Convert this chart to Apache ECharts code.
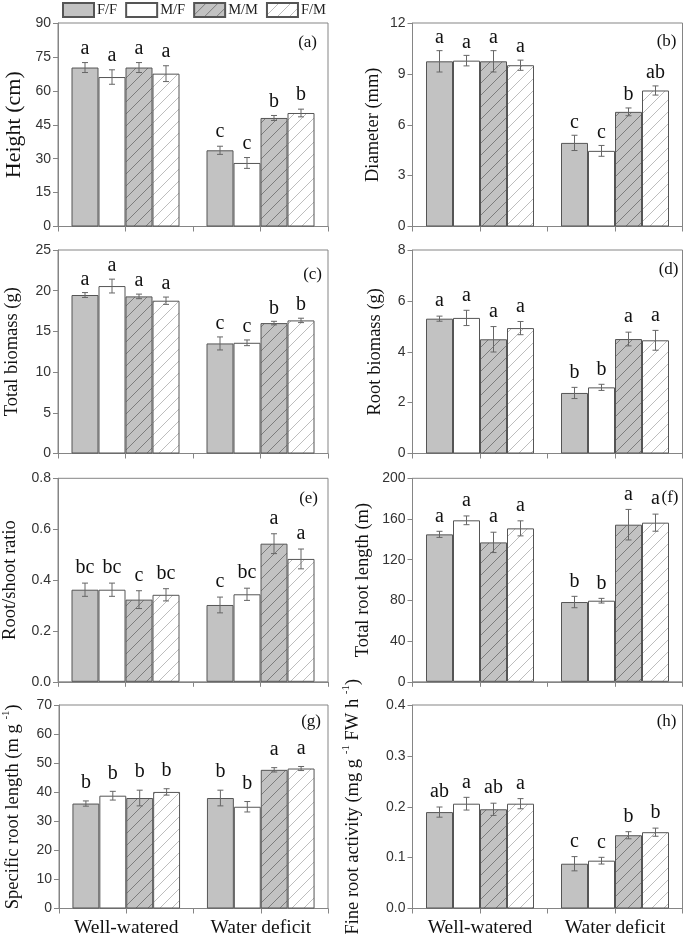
<!DOCTYPE html>
<html><head><meta charset="utf-8">
<script src="https://cdn.jsdelivr.net/npm/echarts@6/dist/echarts.min.js"></script>
<style>html,body{margin:0;padding:0;background:#fff}#c{width:685px;height:938px}</style>
</head><body><div id="c"></div><script>
// ---------- DATA ----------
const categories = ['Well-watered', 'Water deficit'];
const treatments = ['F/F', 'M/F', 'M/M', 'F/M'];
// rows: F/F, M/F, M/M, F/M ; columns: Well-watered, Water deficit
const heightMean = [[70.3, 33.7], [66.1, 28.1], [70.3, 48.0], [67.6, 50.2]];
const heightErr = [[2.2, 1.8], [3.2, 2.4], [2.2, 1.1], [3.5, 1.7]];
const heightLetters = [['a', 'c'], ['a', 'c'], ['a', 'b'], ['a', 'b']];

const diameterMean = [[9.74, 4.93], [9.78, 4.46], [9.74, 6.76], [9.51, 8.02]];
const diameterErr = [[0.63, 0.45], [0.31, 0.32], [0.63, 0.23], [0.30, 0.27]];
const diameterLetters = [['a', 'c'], ['a', 'c'], ['a', 'b'], ['a', 'ab']];

const totalBiomassMean = [[19.47, 13.52], [20.57, 13.6], [19.3, 16.02], [18.77, 16.35]];
const totalBiomassErr = [[0.3, 0.8], [0.85, 0.35], [0.28, 0.22], [0.45, 0.27]];
const totalBiomassLetters = [['a', 'c'], ['a', 'c'], ['a', 'b'], ['a', 'b']];

const rootBiomassMean = [[5.30, 2.38], [5.33, 2.60], [4.49, 4.50], [4.93, 4.45]];
const rootBiomassErr = [[0.1, 0.22], [0.3, 0.12], [0.5, 0.27], [0.26, 0.39]];
const rootBiomassLetters = [['a', 'b'], ['a', 'b'], ['a', 'a'], ['a', 'a']];

const rootShootMean = [[0.362, 0.302], [0.362, 0.344], [0.323, 0.543], [0.342, 0.483]];
const rootShootErr = [[0.026, 0.031], [0.026, 0.024], [0.035, 0.039], [0.024, 0.039]];
const rootShootLetters = [['bc', 'c'], ['bc', 'bc'], ['c', 'a'], ['bc', 'a']];

const rootLengthMean = [[144.9, 78.4], [158.7, 79.7], [137.0, 154.4], [150.8, 156.4]];
const rootLengthErr = [[3.0, 5.6], [4.3, 2.3], [10.0, 15.0], [7.4, 8.4]];
const rootLengthLetters = [['a', 'b'], ['a', 'b'], ['a', 'a'], ['a', 'a']];

const srlMean = [[36.1, 38.0], [38.8, 35.0], [38.0, 47.7], [40.1, 48.15]];
const srlErr = [[0.9, 2.7], [1.5, 1.8], [2.7, 0.75], [1.1, 0.7]];
const srlLetters = [['b', 'b'], ['b', 'b'], ['b', 'a'], ['b', 'a']];

const activityMean = [[0.1895, 0.088], [0.206, 0.094], [0.195, 0.144], [0.206, 0.150]];
const activityErr = [[0.010, 0.014], [0.0125, 0.0066], [0.012, 0.007], [0.010, 0.008]];
const activityLetters = [['ab', 'c'], ['a', 'c'], ['ab', 'b'], ['a', 'b']];

const yMaxes = [90, 12, 25, 8, 0.8, 200, 70, 0.4];
const yIntervals = [15, 3, 5, 2, 0.2, 40, 10, 0.1];
const yNames = [
  'Height (cm)', 'Diameter (mm)', 'Total biomass (g)', 'Root biomass (g)',
  'Root/shoot ratio', 'Total root length (m)',
  '{n|Specific root length (m g }{s|-1}{n|)}',
  '{n|Fine root activity (mg g }{s|-1}{n| FW h }{s|-1}{n|)}'
];
const panelTags = ['(a)', '(b)', '(c)', '(d)', '(e)', '(f)', '(g)', '(h)'];

// ---------- STYLE / LAYOUT ----------
const SERIF = '"Liberation Serif", "Times New Roman", serif';
const SANS = '"Liberation Sans", Arial, sans-serif';
const frameColor = '#858585';
const barBorder = '#555555';

function makeHatch(bg, line) {
  const s = 12;
  const cv = document.createElement('canvas');
  cv.width = s; cv.height = s;
  const ctx = cv.getContext('2d');
  ctx.fillStyle = bg; ctx.fillRect(0, 0, s, s);
  ctx.strokeStyle = line; ctx.lineWidth = 1;
  ctx.beginPath();
  ctx.moveTo(-1, s + 1); ctx.lineTo(s + 1, -1);
  ctx.moveTo(-1, 1); ctx.lineTo(1, -1);
  ctx.moveTo(s - 1, s + 1); ctx.lineTo(s + 1, s - 1);
  ctx.stroke();
  return { image: cv, repeat: 'repeat' };
}
const fills = ['#c2c2c2', '#ffffff', makeHatch('#c2c2c2', '#7c7c7c'), makeHatch('#ffffff', '#bdbdbd')];

const panelData = [
  [heightMean, heightErr, heightLetters],
  [diameterMean, diameterErr, diameterLetters],
  [totalBiomassMean, totalBiomassErr, totalBiomassLetters],
  [rootBiomassMean, rootBiomassErr, rootBiomassLetters],
  [rootShootMean, rootShootErr, rootShootLetters],
  [rootLengthMean, rootLengthErr, rootLengthLetters],
  [srlMean, srlErr, srlLetters],
  [activityMean, activityErr, activityLetters]
];

const colLeft = [58, 412.5];
const rowTop = [23, 250, 478.3, 705];
const plotW = 270, plotH = 203.5;
const nameGaps = [33, 30, 36, 28, 38, 40, 36, 50];
const nameSizes = [22, 18.5, 18.5, 18.5, 18.5, 18.5, 18.5, 18.5];
const letterGaps = [4, 3, 3, 5, 5, 5, 8, 5];
const tagOffsets = [[11, 20], [6, 19], [6, 25], [4, 20], [10, 20], [4, 19], [7, 17], [6, 17]];

const grids = [], xAxes = [], yAxes = [], series = [], graphics = [];

panelData.forEach((pd, p) => {
  const [means, errs, letters] = pd;
  const col = p % 2, row = Math.floor(p / 2);
  grids.push({ left: colLeft[col], top: rowTop[row], width: plotW, height: plotH,
    show: true, borderColor: frameColor, borderWidth: 1, backgroundColor: 'transparent' });
  const isBottom = row === 3;
  xAxes.push({
    gridIndex: p, type: 'category', data: categories,
    axisLine: { lineStyle: { color: frameColor, width: 1 } },
    axisTick: { show: true, length: 5, lineStyle: { color: frameColor } },
    axisLabel: { show: isBottom, interval: 0, hideOverlap: false, fontFamily: SERIF, fontSize: 19.5, color: '#111', margin: 9 }
  });
  xAxes.push({
    gridIndex: p, type: 'category', data: categories, position: 'bottom',
    axisLine: { show: false },
    axisTick: { show: true, alignWithLabel: true, interval: 0, length: 5, lineStyle: { color: frameColor } },
    axisLabel: { show: false }
  });
  const dec = yMaxes[p] < 1 ? 1 : 0;
  yAxes.push({
    gridIndex: p, type: 'value', min: 0, max: yMaxes[p], interval: yIntervals[p],
    name: yNames[p], nameLocation: 'middle', nameRotate: 90, nameGap: nameGaps[p],
    nameTextStyle: {
      fontFamily: SERIF, fontSize: nameSizes[p], color: '#111',
      rich: {
        n: { fontFamily: SERIF, fontSize: nameSizes[p], color: '#111', lineHeight: 22, verticalAlign: 'bottom' },
        s: { fontFamily: SERIF, fontSize: 11, color: '#111', lineHeight: 22, verticalAlign: 'top' }
      }
    },
    axisLine: { show: true, lineStyle: { color: frameColor } },
    axisTick: { show: true, length: 5, lineStyle: { color: frameColor } },
    splitLine: { show: false },
    axisLabel: { fontFamily: SANS, fontSize: 14, color: '#333', margin: 7,
      formatter: v => v.toFixed(dec) }
  });
  treatments.forEach((t, s) => {
    series.push({
      name: t, type: 'bar', xAxisIndex: p * 2, yAxisIndex: p,
      data: means[s], barWidth: '20%', barGap: '0%',
      itemStyle: { color: fills[s], borderColor: barBorder, borderWidth: 1 },
      emphasis: { disabled: true }, animation: false
    });
  });
  const errData = [];
  treatments.forEach((t, s) => {
    categories.forEach((c, ci) => {
      errData.push([ci, s, means[s][ci], errs[s][ci]]);
    });
  });
  const lg = letterGaps[p];
  series.push({
    type: 'custom', xAxisIndex: p * 2, yAxisIndex: p, z: 5, clip: false,
    data: errData, encode: { x: 0, y: 2 }, animation: false, silent: true,
    renderItem: (params, api) => {
      const ci = api.value(0), s = api.value(1), m = api.value(2), e = api.value(3);
      const band = api.size([1, 0])[0];
      const bw = band * 0.2;
      const x = api.coord([ci, m])[0] + (s - 1.5) * bw;
      const yt = api.coord([ci, m + e])[1];
      const yb = api.coord([ci, m - e])[1];
      const ls = { stroke: '#666', lineWidth: 1 };
      const cap = 3;
      return { type: 'group', children: [
        { type: 'line', shape: { x1: x, y1: yt, x2: x, y2: yb }, style: ls },
        { type: 'line', shape: { x1: x - cap, y1: yt, x2: x + cap, y2: yt }, style: ls },
        { type: 'line', shape: { x1: x - cap, y1: yb, x2: x + cap, y2: yb }, style: ls },
        { type: 'text', style: { text: letters[s][ci], x: x, y: yt - lg,
            align: 'center', verticalAlign: 'bottom', fontFamily: SERIF, fontSize: 20, fill: '#111' } }
      ] };
    }
  });
  graphics.push({ type: 'text', silent: true,
    style: { text: panelTags[p], x: colLeft[col] + plotW - tagOffsets[p][0], y: rowTop[row] + tagOffsets[p][1],
      align: 'right', verticalAlign: 'middle', fontFamily: SERIF, fontSize: 17, fill: '#111' } });
});

const chart = echarts.init(document.getElementById('c'), null, { renderer: 'canvas' });
chart.setOption({
  animation: false,
  backgroundColor: '#fff',
  legend: {
    data: treatments, left: 62, top: 2, padding: 0, itemWidth: 31, itemHeight: 14, itemGap: 8,
    icon: 'rect', selectedMode: false,
    textStyle: { fontFamily: SERIF, fontSize: 14.5, color: '#222', padding: [0, 0, 0, -2] }
  },
  grid: grids, xAxis: xAxes, yAxis: yAxes, series: series, graphic: graphics
});
</script></body></html>
